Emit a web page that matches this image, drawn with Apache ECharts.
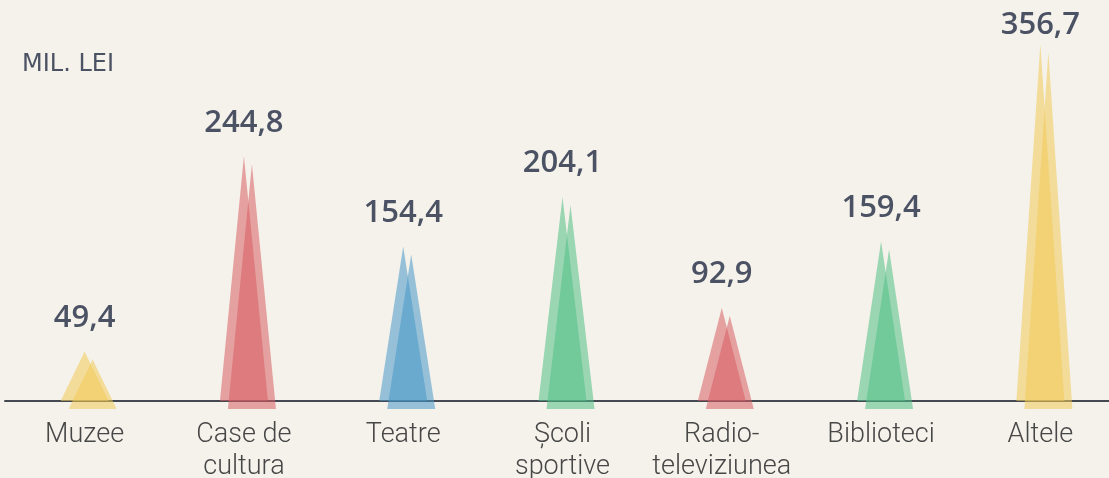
<!DOCTYPE html>
<html>
<head>
<meta charset="utf-8">
<script src="https://cdn.jsdelivr.net/npm/echarts@6/dist/echarts.min.js"></script>
<style>
  html, body { margin: 0; padding: 0; background: #f5f2eb; }
  #main { width: 1109px; height: 478px; }
</style>
</head>
<body>
<div id="main"></div>
<script>
// categories and values (mil. lei)
var categories = ['Muzee', 'Case de\ncultura', 'Teatre', 'Școli\nsportive', 'Radio-\nteleviziunea', 'Biblioteci', 'Altele'];
var values = [49.4, 244.8, 154.4, 204.1, 92.9, 159.4, 356.7];
var colors = ['rgba(240,203,87,0.55)', 'rgba(215,93,98,0.55)', 'rgba(71,152,201,0.55)', 'rgba(81,191,133,0.55)',
	'rgba(215,93,98,0.55)', 'rgba(81,191,133,0.55)', 'rgba(240,203,87,0.55)'];

var myChart = echarts.init(document.getElementById('main'));

function seriesData(showLabel) {
	var arr = [];
	for (var i = 0; i < values.length; i++) {
		arr.push({
			value: values[i],
			itemStyle: { color: colors[i] },
			// the tallest label sits closer to its peak so it stays on the page
			label: { show: showLabel, distance: i == values.length - 1 ? 4 : 18 }
		});
	}
	return arr;
}

var option = {
	backgroundColor: '#f5f2eb',
	animation: false,
	graphic: [{
		type: 'text',
		left: 22,
		top: 53,
		style: {
			text: 'MIL. LEI',
			fill: '#4b5263',
			font: '500 24px "DejaVu Sans"'
		}
	}],
	grid: {
		left: 5,
		right: -11,
		top: 1,
		bottom: 77,
		outerBoundsMode: 'none',
		containLabel: false
	},
	xAxis: {
		type: 'category',
		data: categories,
		axisTick: { show: false },
		axisLine: {
			show: true,
			lineStyle: { color: '#454a52', width: 2 }
		},
		axisLabel: {
			color: '#474747',
			fontFamily: 'Roboto',
			fontWeight: 300,
			fontSize: 27,
			lineHeight: 32,
			margin: 18,
			interval: 0
		}
	},
	yAxis: {
		type: 'value',
		min: 0,
		max: 400,
		show: false,
		splitLine: { show: false }
	},
	series: [{
			type: 'pictorialBar',
			symbol: 'triangle',
			symbolSize: [48, '100%'],
			barGap: '-100%',
			z: 2,
			label: {
				position: 'top',
				distance: 18,
				color: '#4b5263',
				fontFamily: 'Open Sans',
				fontWeight: 600,
				fontSize: 31,
				formatter: function(p) {
					return String(p.value).replace('.', ',');
				}
			},
			data: seriesData(true)
		},
		{
			type: 'pictorialBar',
			symbol: 'triangle',
			symbolSize: [48, '100%'],
			symbolOffset: [8, 8],
			z: 3,
			data: seriesData(false)
		}
	]
};
myChart.setOption(option);
</script>
</body>
</html>
